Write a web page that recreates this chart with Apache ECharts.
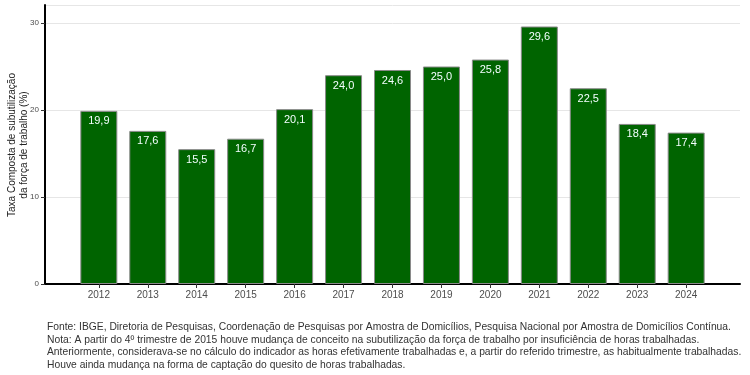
<!DOCTYPE html>
<html>
<head>
<meta charset="utf-8">
<script src="https://cdn.jsdelivr.net/npm/echarts@6/dist/echarts.min.js"></script>
<style>
  html, body { margin: 0; padding: 0; background: #fff; }
  #chart { width: 750px; height: 375px; }
</style>
</head>
<body>
<div id="chart"></div>
<script>
var anos = [2012, 2013, 2014, 2015, 2016, 2017, 2018, 2019, 2020, 2021, 2022, 2023, 2024];
var taxa = [19.9, 17.6, 15.5, 16.7, 20.1, 24.0, 24.6, 25.0, 25.8, 29.6, 22.5, 18.4, 17.4];
var tituloY = "Taxa Composta de subutilização\nda força de trabalho (%)";
var notas = [
  "Fonte: IBGE, Diretoria de Pesquisas, Coordenação de Pesquisas por Amostra de Domicílios, Pesquisa Nacional por Amostra de Domicílios Contínua.",
  "Nota: A partir do 4º trimestre de 2015 houve mudança de conceito na subutilização da força de trabalho por insuficiência de horas trabalhadas.",
  "Anteriormente, considerava-se no cálculo do indicador as horas efetivamente trabalhadas e, a partir do referido trimestre, as habitualmente trabalhadas.",
  "Houve ainda mudança na forma de captação do quesito de horas trabalhadas."
];

var chart = echarts.init(document.getElementById("chart"));
var option = {
  animation: false,
  textStyle: { fontFamily: "Liberation Sans, Arial, sans-serif" },
  grid: { left: 45, right: 10, top: 5, bottom: 91, containLabel: false, outerBoundsMode: "none" },
  xAxis: {
    type: "value",
    min: 2010.9,
    max: 2025.1,
    axisLine: { show: true, lineStyle: { color: "#000", width: 2 } },
    axisTick: { show: true, customValues: anos, length: 4, lineStyle: { color: "#333" } },
    axisLabel: {
      customValues: anos,
      color: "#4d4d4d",
      fontSize: 10,
      margin: 6,
      formatter: function (v) { return String(v); }
    },
    splitLine: { show: false }
  },
  yAxis: {
    type: "value",
    min: 0,
    max: 32.07,
    interval: 10,
    axisLine: { show: true, lineStyle: { color: "#000", width: 2 } },
    axisTick: { show: true, length: 4, lineStyle: { color: "#333" } },
    axisLabel: {
      color: "#4d4d4d",
      fontSize: 8,
      margin: 6,
      showMaxLabel: false,
      formatter: function (v) { return v % 10 === 0 ? String(v) : ""; }
    },
    splitLine: { show: true, lineStyle: { color: "#e6e6e6", width: 1 } }
  },
  series: [
    {
      type: "bar",
      barWidth: 37,
      data: anos.map(function (a, i) { return [a, taxa[i]]; }),
      itemStyle: { color: "#006400", borderColor: "#8a8a8a", borderWidth: 1 },
      label: {
        show: true,
        position: "insideTop",
        distance: 5,
        color: "#f4ffff",
        fontSize: 11,
        formatter: function (p) { return p.value[1].toFixed(1).replace(".", ","); }
      }
    }
  ],
  graphic: [
    {
      type: "text",
      x: 18,
      y: 145,
      rotation: Math.PI / 2,
      style: {
        text: tituloY,
        fill: "#222",
        fontSize: 10,
        lineHeight: 12,
        align: "center",
        verticalAlign: "middle",
        fontFamily: "Liberation Sans, Arial, sans-serif"
      }
    },
    {
      type: "text",
      left: 47,
      top: 321,
      style: {
        text: notas.join("\n"),
        fill: "#333",
        fontSize: 10.3,
        lineHeight: 12.6,
        fontFamily: "Liberation Sans, Arial, sans-serif"
      }
    }
  ]
};
chart.setOption(option);
</script>
</body>
</html>
